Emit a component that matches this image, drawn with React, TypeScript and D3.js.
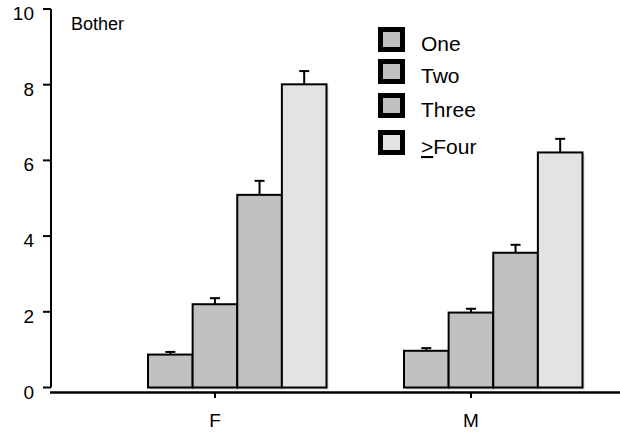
import React from "react";
import * as d3 from "d3";

// values
const groups = ["F", "M"];
const seriesNames = ["One", "Two", "Three", "Four"];
const meansF = [0.87, 2.2, 5.09, 8.01];
const meansM = [0.97, 1.98, 3.56, 6.21];
const errF = [0.07, 0.16, 0.37, 0.35];
const errM = [0.07, 0.1, 0.21, 0.36];
const yTicks = [0, 2, 4, 6, 8, 10];
const yTitle = "Bother";

const W = 620;
const H = 432;
const font = "'Liberation Sans', Arial, sans-serif";
const fills = ["#c0c0c0", "#c0c0c0", "#c0c0c0", "#e3e3e3"];
const legendY = [27, 59, 93, 130];

export default function App() {
  const y = d3.scaleLinear().domain([0, 10]).range([387.5, 9]);
  const xTick = d3.scalePoint<string>().domain(groups).range([215, 471]);
  const groupStart = (g: string) => (xTick(g) as number) - 67;
  const inner = d3.scaleBand<string>().domain(seriesNames).range([0, 178.5]).padding(0);

  const rows = groups.map((g, gi) => ({
    g,
    means: gi === 0 ? meansF : meansM,
    errs: gi === 0 ? errF : errM,
  }));

  return (
    <svg width={W} height={H} style={{ position: "absolute", left: 0, top: 0, background: "#fff" }} fontFamily={font}>
      {/* bars */}
      {rows.map((r) =>
        r.means.map((v, i) => {
          const x0 = groupStart(r.g) + (inner(seriesNames[i]) as number);
          const bw = inner.bandwidth();
          const top = y(v);
          const capY = y(v + r.errs[i]);
          const cx = x0 + bw / 2;
          return (
            <g key={r.g + i}>
              <rect x={x0 + 2} y={top + 2} width={bw} height={y(0) - top} fill="#d4d4d4" />
              <line x1={cx} x2={cx} y1={top} y2={capY} stroke="#000" strokeWidth={2} />
              <line x1={cx - 5} x2={cx + 5} y1={capY} y2={capY} stroke="#000" strokeWidth={2} />
            </g>
          );
        })
      )}
      {rows.map((r) =>
        r.means.map((v, i) => {
          const x0 = groupStart(r.g) + (inner(seriesNames[i]) as number);
          const bw = inner.bandwidth();
          return (
            <rect
              key={"b" + r.g + i}
              x={x0}
              y={y(v)}
              width={bw}
              height={y(0) - y(v)}
              fill={fills[i]}
              stroke="#000"
              strokeWidth={2}
            />
          );
        })
      )}

      {/* y axis */}
      <line x1={51} x2={51} y1={y(10)} y2={y(0)} stroke="#000" strokeWidth={2} />
      {yTicks.map((t) => (
        <g key={t}>
          <line x1={43} x2={51} y1={y(t)} y2={y(t)} stroke="#000" strokeWidth={2} />
          <text x={34} y={y(t) + 11} textAnchor="end" fontSize={19} fill="#000">
            {t}
          </text>
        </g>
      ))}
      <text x={71} y={30} fontSize={18} fill="#000">
        {yTitle}
      </text>

      {/* x axis */}
      <line x1={50} x2={W} y1={392.5} y2={392.5} stroke="#000" strokeWidth={2.5} />
      {groups.map((g) => (
        <g key={g}>
          <line x1={xTick(g)} x2={xTick(g)} y1={392} y2={398} stroke="#000" strokeWidth={2} />
          <text x={xTick(g)} y={427} textAnchor="middle" fontSize={19} fill="#000">
            {g}
          </text>
        </g>
      ))}

      {/* legend */}
      {seriesNames.map((s, i) => (
        <g key={s}>
          <rect x={380.5} y={legendY[i] + 2.5} width={22} height={20} fill={fills[i]} stroke="#000" strokeWidth={5} />
          <text x={421} y={legendY[i] + 24} fontSize={21} fill="#000">
            {i === 3 ? (
              <>
                <tspan textDecoration="underline">{">"}</tspan>
                {s}
              </>
            ) : (
              s
            )}
          </text>
        </g>
      ))}
    </svg>
  );
}
